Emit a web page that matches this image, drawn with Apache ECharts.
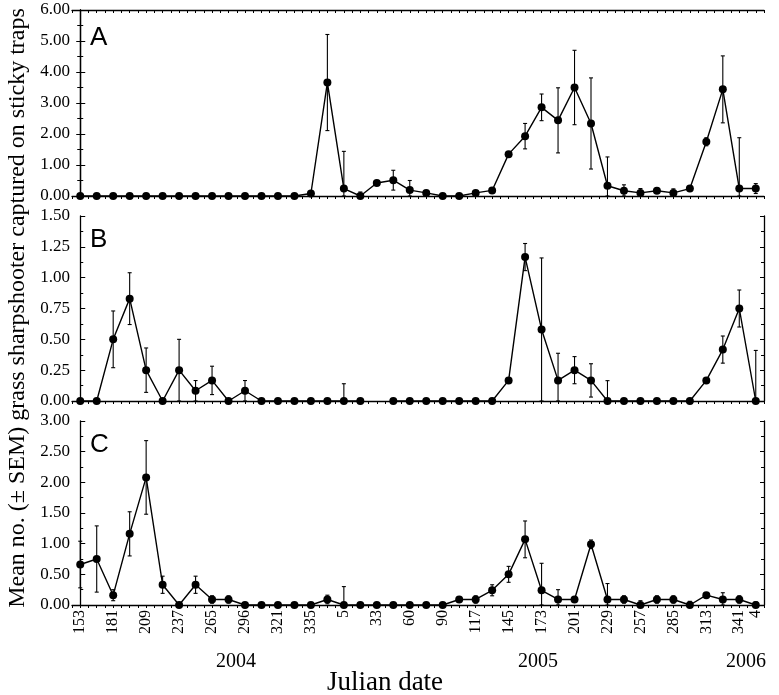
<!DOCTYPE html>
<html>
<head>
<meta charset="utf-8">
<script src="https://cdn.jsdelivr.net/npm/echarts@6/dist/echarts.min.js"></script>
<style>
  html, body { margin: 0; padding: 0; background: #fff; }
  #chart { width: 779px; height: 695px; }
</style>
</head>
<body>
<div id="chart"></div>
<script>
// julian dates (only every other one is labelled, plus the last)
const dates = ['153', '167', '181', '195', '209', '223', '237', '251', '265', '280',
  '296', '308', '321', '328', '335', '350', '5', '19', '33', '47',
  '60', '75', '90', '104', '117', '131', '145', '159', '173', '187',
  '201', '215', '229', '243', '257', '271', '285', '299', '313', '327',
  '341', '4'];

// panel A
const meanA = [0, 0, 0, 0, 0, 0, 0, 0, 0, 0,
  0, 0, 0, 0, 0.08, 3.66, 0.24, 0, 0.42, 0.51,
  0.19, 0.1, 0, 0, 0.1, 0.18, 1.35, 1.93, 2.86, 2.44,
  3.5, 2.34, 0.33, 0.17, 0.1, 0.17, 0.1, 0.24, 1.75, 3.44,
  0.24, 0.24];
const semA = [0, 0, 0, 0, 0, 0, 0, 0, 0, 0,
  0, 0, 0, 0, 0, 1.55, 1.2, 0.13, 0, 0.32,
  0.31, 0, 0, 0, 0, 0, 0, 0.41, 0.43, 1.05,
  1.2, 1.47, 0.93, 0.19, 0.14, 0.05, 0.13, 0, 0.13, 1.08,
  1.64, 0.16];

// panel B (no sample at index 18)
const meanB = [0, 0, 0.5, 0.83, 0.25, 0, 0.25, 0.083, 0.167, 0,
  0.083, 0, 0, 0, 0, 0, 0, 0, null, 0,
  0, 0, 0, 0, 0, 0, 0.167, 1.167, 0.58, 0.167,
  0.25, 0.167, 0, 0, 0, 0, 0, 0, 0.167, 0.417,
  0.75, 0];
const semB = [0, 0, 0.23, 0.21, 0.18, 0, 0.25, 0.083, 0.115, 0,
  0.083, 0, 0, 0, 0, 0, 0.14, 0, 0, 0,
  0, 0, 0, 0, 0, 0, 0, 0.11, 0.58, 0.22,
  0.11, 0.135, 0.165, 0, 0, 0, 0, 0, 0, 0.11,
  0.15, 0.41];

// panel C
const meanC = [0.66, 0.75, 0.16, 1.16, 2.08, 0.33, 0, 0.33, 0.09, 0.09,
  0, 0, 0, 0, 0, 0.09, 0, 0, 0, 0,
  0, 0, 0, 0.09, 0.09, 0.24, 0.5, 1.07, 0.24, 0.09,
  0.09, 0.99, 0.09, 0.09, 0, 0.09, 0.09, 0, 0.16, 0.09,
  0.09, 0];
const semC = [0.38, 0.54, 0.09, 0.36, 0.6, 0.14, 0, 0.14, 0.06, 0.06,
  0, 0, 0, 0, 0, 0.07, 0.3, 0, 0, 0,
  0, 0, 0, 0, 0.06, 0.09, 0.13, 0.3, 0.44, 0.16,
  0, 0.07, 0.26, 0.06, 0.07, 0.06, 0.06, 0.06, 0, 0.11,
  0.06, 0.05];

const years = ['2004', '2005', '2006'];
const panels = ['A', 'B', 'C'];
const yMax = [6, 1.5, 3];
const yStep = [1, 0.25, 0.5];

const serif = 'Liberation Serif';
const black = '#000';

const chart = echarts.init(document.getElementById('chart'));

const grids = [
  { left: 72, right: 15, top: 10, height: 186 },
  { left: 72, right: 15, top: 216, height: 185 },
  { left: 72, right: 15, top: 421, height: 184 },
];

function errData(mean, sem) {
  const out = [];
  mean.forEach((m, i) => {
    if (m == null || !sem[i]) return;
    out.push([i, Math.max(0, m - sem[i]), m + sem[i]]);
  });
  return out;
}

function renderErr(params, api) {
  const lo = api.coord([api.value(0), api.value(1)]);
  const hi = api.coord([api.value(0), api.value(2)]);
  const w = 2;
  const style = { stroke: black, lineWidth: 1.1 };
  return {
    type: 'group',
    children: [
      { type: 'line', shape: { x1: lo[0], y1: lo[1], x2: hi[0], y2: hi[1] }, style },
      { type: 'line', shape: { x1: hi[0] - w, y1: hi[1], x2: hi[0] + w, y2: hi[1] }, style },
      { type: 'line', shape: { x1: lo[0] - w, y1: lo[1], x2: lo[0] + w, y2: lo[1] }, style },
    ],
  };
}

const xAxis = [];
const yAxis = [];
const series = [];

grids.forEach((g, k) => {
  // main category axis, half a step of padding at both ends
  xAxis.push({
    type: 'category',
    gridIndex: k,
    data: dates,
    boundaryGap: true,
    axisLine: { lineStyle: { color: black, width: 1.3 } },
    axisTick: { show: false },
    axisLabel: {
      show: k === 2,
      rotate: 90,
      interval: (i) => i % 2 === 0 || i === dates.length - 1,
      color: black,
      fontFamily: serif,
      fontSize: 16,
      margin: 5,
    },
  });
});

grids.forEach((g, k) => {
  // tick helper: small ticks every half step
  xAxis.push({
    type: 'value',
    gridIndex: k,
    min: -0.5,
    max: dates.length - 0.5,
    interval: 0.5,
    axisLine: { show: false },
    axisTick: { inside: true, length: 3, lineStyle: { color: black } },
    axisLabel: { show: false },
    splitLine: { show: false },
  });
});

// top border of panel A
xAxis.push({
  type: 'value',
  gridIndex: 0,
  position: 'top',
  min: -0.5,
  max: dates.length - 0.5,
  interval: 0.5,
  axisLine: { show: true, lineStyle: { color: black, width: 1.3 } },
  axisTick: { inside: true, length: 3, lineStyle: { color: black } },
  axisLabel: { show: false },
  splitLine: { show: false },
});

grids.forEach((g, k) => {
  yAxis.push({
    type: 'value',
    gridIndex: k,
    min: 0,
    max: yMax[k],
    interval: yStep[k],
    axisLine: { show: true, lineStyle: { color: black, width: 1.3 } },
    axisTick: { show: true, inside: true, length: 5, lineStyle: { color: black } },
    minorTick: { show: true, splitNumber: 2, length: 3, lineStyle: { color: black } },
    axisLabel: {
      color: black,
      fontFamily: serif,
      fontSize: 17,
      margin: 2,
      formatter: (v) => v.toFixed(2),
    },
    splitLine: { show: false },
  });
});

grids.forEach((g, k) => {
  yAxis.push({
    type: 'value',
    gridIndex: k,
    position: 'right',
    min: 0,
    max: yMax[k],
    interval: yStep[k],
    axisLine: { show: true, lineStyle: { color: black, width: 1.3 } },
    axisTick: { show: true, inside: true, length: 4, lineStyle: { color: black } },
    minorTick: { show: true, splitNumber: 2, length: 3, lineStyle: { color: black } },
    axisLabel: { show: false },
    splitLine: { show: false },
  });
});

const means = [meanA, meanB, meanC];
const sems = [semA, semB, semC];

grids.forEach((g, k) => {
  series.push({
    type: 'custom',
    xAxisIndex: k,
    yAxisIndex: k,
    data: errData(means[k], sems[k]),
    renderItem: renderErr,
    z: 2,
    silent: true,
  });
  series.push({
    type: 'line',
    xAxisIndex: k,
    yAxisIndex: k,
    data: means[k],
    symbol: 'circle',
    symbolSize: 8,
    showAllSymbol: true,
    connectNulls: false,
    itemStyle: { color: black },
    lineStyle: { color: black, width: 1.4 },
    z: 3,
    silent: true,
  });
});

const graphic = [
  {
    type: 'text',
    x: 18,
    y: 308,
    rotation: Math.PI / 2,
    style: {
      text: 'Mean no. (\u00b1 SEM) grass sharpshooter captured on sticky traps',
      font: '24px "' + serif + '"',
      fill: black,
      align: 'center',
      verticalAlign: 'middle',
    },
  },
  {
    type: 'text',
    x: 385,
    y: 683,
    style: {
      text: 'Julian date',
      font: '27px "' + serif + '"',
      fill: black,
      align: 'center',
      verticalAlign: 'middle',
    },
  },
];

const yearX = [236, 538, 746];
years.forEach((t, i) => {
  graphic.push({
    type: 'text',
    x: yearX[i],
    y: 662,
    style: { text: t, font: '20px "' + serif + '"', fill: black, align: 'center', verticalAlign: 'middle' },
  });
});

const letterY = [38, 240, 445];
panels.forEach((t, i) => {
  graphic.push({
    type: 'text',
    x: 90,
    y: letterY[i],
    style: { text: t, font: '26px "Liberation Sans"', fill: black, align: 'left', verticalAlign: 'middle' },
  });
});

chart.setOption({
  animation: false,
  grid: grids,
  xAxis,
  yAxis,
  series,
  graphic,
});
</script>
</body>
</html>
